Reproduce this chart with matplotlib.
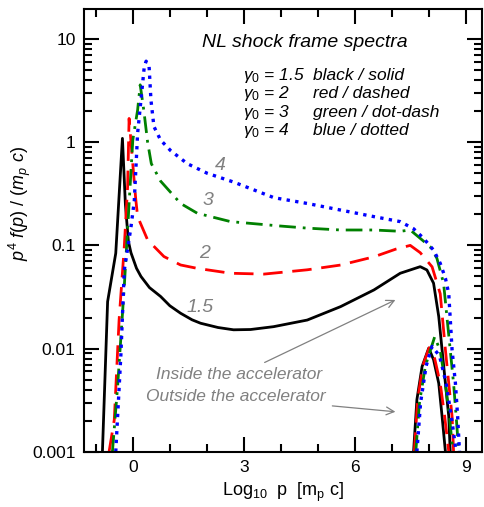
import numpy as np
import matplotlib
matplotlib.use("Agg")
import matplotlib.pyplot as plt
from matplotlib.ticker import FixedLocator, LogLocator, NullFormatter

plt.rcParams['font.family'] = ['Liberation Sans', 'DejaVu Sans']
plt.rcParams['mathtext.fontset'] = 'custom'
plt.rcParams['mathtext.rm'] = 'Liberation Sans'
plt.rcParams['mathtext.it'] = 'Liberation Sans:italic'
plt.rcParams['mathtext.bf'] = 'Liberation Sans:bold'

# spectra inside the accelerator: log10 p and p^4 f(p)
x_15 = [-0.82, -0.68, -0.46, -0.28, -0.20, -0.12, -0.05, 0.10, 0.22, 0.45, 0.75,
        1.00, 1.29, 1.60, 1.83, 2.30, 2.72, 3.18, 3.80, 4.71, 5.61, 6.51, 7.22,
        7.76, 7.94, 8.12, 8.26, 8.35, 8.44, 8.53, 8.57]
y_15 = [0.001, 0.0285, 0.084, 1.09, 0.25, 0.11, 0.085, 0.060, 0.050, 0.039,
        0.032, 0.026, 0.022, 0.019, 0.0176, 0.0160, 0.0152, 0.0153, 0.0163,
        0.0189, 0.0255, 0.037, 0.0537, 0.0622, 0.0578, 0.043, 0.0204, 0.0097,
        0.0046, 0.0022, 0.001]

x_2 = [-0.64, -0.50, -0.37, -0.23, -0.14, -0.10, 0.02, 0.08, 0.13, 0.40, 0.84,
       1.29, 1.74, 2.64, 3.54, 4.71, 5.61, 6.51, 7.10, 7.49, 7.76, 8.08, 8.30,
       8.44, 8.53, 8.62, 8.66]
y_2 = [0.001, 0.00204, 0.0189, 0.097, 0.37, 1.7, 0.5, 0.28, 0.19, 0.113, 0.078,
       0.0646, 0.0599, 0.0537, 0.0527, 0.058, 0.0645, 0.0775, 0.092, 0.10, 0.085,
       0.062, 0.034, 0.0097, 0.0046, 0.0022, 0.001]

x_3 = [-0.55, -0.41, -0.23, -0.10, 0.0, 0.13, 0.20, 0.30, 0.40, 0.50, 0.75,
       1.29, 1.74, 2.64, 3.99, 4.71, 5.61, 6.51, 7.22, 7.49, 7.76, 8.03, 8.21,
       8.39, 8.48, 8.57, 8.66, 8.73, 8.80]
y_3 = [0.001, 0.0043, 0.040, 0.255, 1.05, 2.05, 3.6, 2.0, 1.0, 0.62, 0.42,
       0.255, 0.205, 0.17, 0.154, 0.147, 0.141, 0.141, 0.137, 0.141, 0.117,
       0.097, 0.075, 0.043, 0.0204, 0.0097, 0.0046, 0.0022, 0.001]

x_4 = [-0.46, -0.32, -0.23, -0.05, 0.04, 0.13, 0.22, 0.31, 0.36, 0.44, 0.49,
       0.57, 0.75, 1.02, 1.47, 2.01, 2.73, 3.18, 3.81, 4.71, 5.61, 6.51, 7.22,
       7.58, 7.85, 8.12, 8.30, 8.44, 8.53, 8.62, 8.71, 8.77, 8.82]
y_4 = [0.001, 0.009, 0.0576, 0.15, 0.27, 1.22, 2.56, 5.4, 6.1, 5.4, 2.56,
       1.42, 1.05, 0.83, 0.62, 0.5, 0.41, 0.355, 0.29, 0.255, 0.22, 0.19, 0.17,
       0.145, 0.117, 0.090, 0.067, 0.048, 0.034, 0.0097, 0.0046, 0.0022, 0.001]

# spectra outside the accelerator
xo_15 = [7.58, 7.67, 7.81, 7.99, 8.12, 8.26, 8.35, 8.44]
yo_15 = [0.001, 0.0032, 0.0067, 0.0101, 0.0078, 0.0046, 0.0022, 0.001]
xo_2 = [7.60, 7.69, 7.83, 8.00, 8.15, 8.30, 8.42, 8.53]
yo_2 = [0.001, 0.0032, 0.0068, 0.0102, 0.008, 0.0046, 0.0022, 0.001]
xo_3 = [7.64, 7.74, 7.90, 8.15, 8.30, 8.43, 8.55, 8.64]
yo_3 = [0.001, 0.0030, 0.0068, 0.013, 0.0095, 0.0048, 0.0022, 0.001]
xo_4 = [7.67, 7.77, 7.92, 8.08, 8.28, 8.45, 8.60, 8.73]
yo_4 = [0.001, 0.0030, 0.0068, 0.0105, 0.0085, 0.0048, 0.0022, 0.001]

gamma_vals = ['1.5', '2', '3', '4']
style_names = ['black / solid', 'red / dashed', 'green / dot-dash', 'blue / dotted']

fig = plt.figure(figsize=(4.85, 5.07), dpi=100)
ax = fig.add_axes([0.173, 0.109, 0.821, 0.873])

lw = 2.0
ax.plot(x_15, y_15, color='black', lw=lw)
ax.plot(xo_15, yo_15, color='black', lw=lw)
ax.plot(x_2, y_2, color='#ff0000', lw=lw, dashes=(7, 3.5))
ax.plot(xo_2, yo_2, color='#ff0000', lw=lw, dashes=(7, 3.5))
ax.plot(x_3, y_3, color='#008000', lw=lw, dashes=(6, 2.5, 1, 2.5))
ax.plot(xo_3, yo_3, color='#008000', lw=lw, dashes=(6, 2.5, 1, 2.5))
ax.plot(x_4, y_4, color='#0000ff', lw=2.4, dashes=(1, 1.6))
ax.plot(xo_4, yo_4, color='#0000ff', lw=2.4, dashes=(1, 1.6))

ax.set_yscale('log')
ax.set_xlim(-1.32, 9.43)
ax.set_ylim(0.001, 19.5)

ax.xaxis.set_major_locator(FixedLocator([0, 3, 6, 9]))
ax.xaxis.set_minor_locator(FixedLocator(np.arange(-1, 10, 1)))
ax.yaxis.set_major_locator(LogLocator(base=10, numticks=10))
ax.yaxis.set_minor_locator(LogLocator(base=10, subs=np.arange(2, 10), numticks=10))
ax.yaxis.set_minor_formatter(NullFormatter())
ax.set_yticks([0.001, 0.01, 0.1, 1, 10])
ax.set_yticklabels(['0.001', '0.01', '0.1', '1', '10'])
ax.set_xticklabels(['0', '3', '6', '9'])

ax.tick_params(which='both', direction='in', top=True, right=True, width=1.5,
               labelsize=12.5, pad=6)
ax.tick_params(which='major', length=11)
ax.tick_params(which='minor', length=6)
for s in ax.spines.values():
    s.set_linewidth(1.5)

ax.set_xlabel(r'Log$_{10}$  p  [m$_\mathrm{p}$ c]', fontsize=13, labelpad=4)
ax.set_ylabel(r'$p^4\ f(p)\ /\ (m_p\ c)$', fontsize=13)
ax.yaxis.set_label_coords(-0.128, 0.56)

ax.text(0.296, 0.925, 'NL shock frame spectra', transform=ax.transAxes,
        fontsize=14, style='italic', va='center', ha='left')
row_y = [0.851, 0.810, 0.767, 0.725]
for g, name, yy in zip(gamma_vals, style_names, row_y):
    ax.text(0.40, yy, r'$γ_0$ = ' + g, transform=ax.transAxes, fontsize=12.5,
            style='italic', va='center', ha='left')
    ax.text(0.575, yy, name, transform=ax.transAxes, fontsize=12.5,
            style='italic', va='center', ha='left')

# curve labels
curve_labels = [('4', 2.35, 0.60), ('3', 2.02, 0.27), ('2', 1.94, 0.083), ('1.5', 1.81, 0.025)]
for txt, xx, yy in curve_labels:
    ax.text(xx, yy, txt, color='#808080', fontsize=14, style='italic',
            ha='center', va='center')

ax.annotate('Inside the accelerator', xy=(7.09, 0.0296), xytext=(5.12, 0.0056),
            color='#808080', fontsize=12.5, style='italic', ha='right', va='center',
            arrowprops=dict(arrowstyle='->', color='#808080', lw=0.9,
                            mutation_scale=14, shrinkA=3, shrinkB=0))
ax.annotate('Outside the accelerator', xy=(7.09, 0.00244), xytext=(5.20, 0.0034),
            color='#808080', fontsize=12.5, style='italic', ha='right', va='center',
            arrowprops=dict(arrowstyle='->', color='#808080', lw=0.9,
                            mutation_scale=14, shrinkA=3, shrinkB=0))

fig.savefig('out.png', dpi=100)
